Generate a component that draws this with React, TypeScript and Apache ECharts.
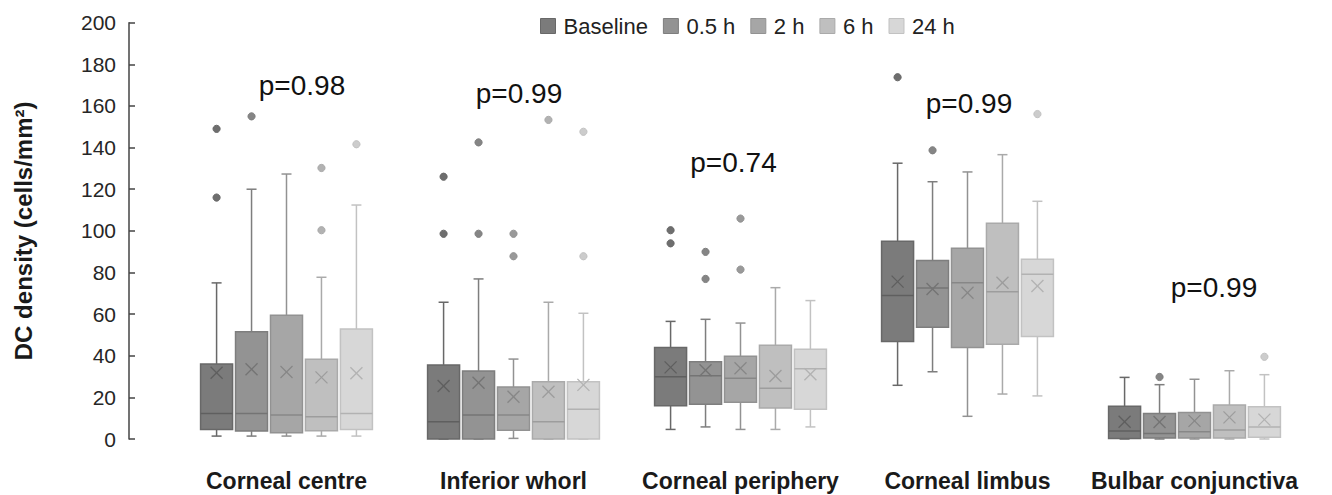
import React, { useEffect, useRef } from "react";
import * as echarts from "echarts";

const categories = ["Corneal centre", "Inferior whorl", "Corneal periphery", "Corneal limbus", "Bulbar conjunctiva"];
const seriesNames = ["Baseline", "0.5 h", "2 h", "6 h", "24 h"];
const yTicks = [0, 20, 40, 60, 80, 100, 120, 140, 160, 180, 200];
const pValues = ["p=0.98", "p=0.99", "p=0.74", "p=0.99", "p=0.99"];

// [min, q1, median, q3, max, mean] per category
const baselineStats = [
  [1.4, 4.6, 12.3, 36, 75, 31.8],
  [0, 0, 8.3, 35.6, 65.7, 25.5],
  [4.6, 16, 29.9, 44, 56.5, 34.4],
  [25.8, 46.8, 68.9, 95, 132.5, 75.6],
  [0, 0.3, 3.8, 15.7, 29.6, 8.3],
];
const h05Stats = [
  [1.4, 3.8, 12.3, 51.5, 120, 33.5],
  [0, 0, 11.5, 32.7, 76.9, 27],
  [5.8, 16.7, 30.4, 37.1, 57.5, 33],
  [32.3, 53.7, 72.6, 85.7, 123.6, 72.1],
  [0, 0.5, 2.7, 12.2, 26.1, 8.2],
];
const h2Stats = [
  [1.4, 3, 11.5, 59.4, 127.3, 32.2],
  [0.3, 4.2, 11.5, 25, 38.4, 20.3],
  [4.6, 17.6, 29.2, 39.7, 55.7, 34],
  [10.9, 44, 75.1, 91.6, 128.3, 70.3],
  [0, 0.5, 3.5, 12.7, 28.7, 8.7],
];
const h6Stats = [
  [1.4, 4, 10.7, 38.3, 77.7, 29.6],
  [0, 0, 8.3, 27.5, 65.7, 22.7],
  [4.6, 14.9, 24.4, 45, 72.7, 30.3],
  [21.6, 45.5, 70.8, 103.6, 136.6, 75.1],
  [0, 0.5, 4.3, 16.3, 32.8, 10.4],
];
const h24Stats = [
  [1.4, 4.6, 12.3, 52.8, 112.4, 31.6],
  [0, 0, 14.3, 27.5, 60.4, 26],
  [5.8, 14.3, 33.8, 43.1, 66.5, 31.1],
  [20.7, 49.3, 79.1, 86.3, 114.2, 73.5],
  [0, 0.8, 5.8, 15.5, 30.9, 9.3],
];

// outliers per category
const baselineOutliers = [[149, 116], [126, 98.6], [100.3, 94], [173.8], []];
const h05Outliers = [[155], [142.5, 98.6], [89.9, 76.9], [138.7], [29.8]];
const h2Outliers = [[], [98.6, 87.8], [105.9, 81.4], [], []];
const h6Outliers = [[130.2, 100.3], [153.3], [], [], []];
const h24Outliers = [[141.6], [147.6, 87.8], [], [156.1], [39.5]];

const allStats = [baselineStats, h05Stats, h2Stats, h6Stats, h24Stats];
const allOutliers = [baselineOutliers, h05Outliers, h2Outliers, h6Outliers, h24Outliers];

const fills = ["#7b7b7b", "#939393", "#a6a6a6", "#bfbfbf", "#d7d7d7"];
const strokes = ["#686868", "#7e7e7e", "#929292", "#aaaaaa", "#c2c2c2"];
const meanColors = ["#5f5f5f", "#747474", "#878787", "#9d9d9d", "#b2b2b2"];
const outlierFills = ["#6e6e6e", "#858585", "#999999", "#b2b2b2", "#cccccc"];

const FONT = "'Liberation Sans', Arial, sans-serif";

function makeRenderItem(sIdx: number) {
  return (params: any, api: any) => {
    const cat = api.value(0);
    const band = api.size([1, 0])[0];
    const step = band * 0.154;
    const bw = band * 0.141;
    const cx = api.coord([cat, 0])[0] + (sIdx - 2) * step;
    const y = (v: number) => api.coord([cat, v])[1];
    const vMin = api.value(1), q1 = api.value(2), med = api.value(3), q3 = api.value(4), vMax = api.value(5), mean = api.value(6);
    const stroke = strokes[sIdx];
    const ls = { stroke, lineWidth: 1.5, fill: null };
    const children: any[] = [];
    children.push({ type: "line", shape: { x1: cx, y1: y(q3), x2: cx, y2: y(vMax) }, style: ls });
    children.push({ type: "line", shape: { x1: cx - 5, y1: y(vMax), x2: cx + 5, y2: y(vMax) }, style: ls });
    children.push({ type: "line", shape: { x1: cx, y1: y(q1), x2: cx, y2: y(vMin) }, style: ls });
    children.push({ type: "line", shape: { x1: cx - 5, y1: y(vMin), x2: cx + 5, y2: y(vMin) }, style: ls });
    children.push({
      type: "rect",
      shape: { x: cx - bw / 2, y: y(q3), width: bw, height: y(q1) - y(q3) },
      style: { fill: fills[sIdx], stroke, lineWidth: 1.5 },
    });
    children.push({ type: "line", shape: { x1: cx - bw / 2, y1: y(med), x2: cx + bw / 2, y2: y(med) }, style: { stroke: meanColors[sIdx], lineWidth: 1.5 } });
    const ym = y(mean);
    const mc = { stroke: meanColors[sIdx], lineWidth: 1.3 };
    children.push({ type: "line", shape: { x1: cx - 6, y1: ym - 6, x2: cx + 6, y2: ym + 6 }, style: mc });
    children.push({ type: "line", shape: { x1: cx - 6, y1: ym + 6, x2: cx + 6, y2: ym - 6 }, style: mc });
    (allOutliers[sIdx][cat] || []).forEach((v: number) => {
      children.push({ type: "circle", shape: { cx, cy: y(v), r: 3.6 }, style: { fill: outlierFills[sIdx], stroke, lineWidth: 1 } });
    });
    return { type: "group", children };
  };
}

const pLabelPos = [
  [302, 85.5],
  [519, 93.5],
  [733.5, 162],
  [969, 103],
  [1214, 287],
];

export default function App() {
  const ref = useRef<HTMLDivElement>(null);
  useEffect(() => {
    if (!ref.current) return;
    const chart = echarts.init(ref.current, null, { renderer: "svg" });
    const series = seriesNames.map((name, sIdx) => ({
      name,
      type: "custom",
      renderItem: makeRenderItem(sIdx),
      itemStyle: { color: fills[sIdx] },
      encode: { x: 0, y: [1, 2, 3, 4, 5] },
      data: allStats[sIdx].map((s, i) => [i, ...s]),
    }));
    chart.setOption({
      animation: false,
      textStyle: { fontFamily: FONT },
      legend: {
        left: 535,
        top: 10,
        itemWidth: 15,
        itemHeight: 15,
        itemGap: 15,
        icon: "rect",
        textStyle: { fontSize: 22, color: "#222", fontFamily: FONT, padding: [0, 0, 0, 3] },
        data: seriesNames.map((n, i) => ({
          name: n,
          itemStyle: { color: fills[i], borderColor: strokes[i], borderWidth: 1 },
        })),
      },
      grid: { left: 173, right: 24, top: 22.7, bottom: 56 },
      xAxis: {
        type: "category",
        data: categories,
        axisLine: { show: false },
        axisTick: { show: false },
        axisLabel: { fontSize: 23, fontWeight: "bold", color: "#1a1a1a", margin: 30, fontFamily: FONT, interval: 0 },
      },
      yAxis: {
        type: "value",
        min: yTicks[0],
        max: yTicks[yTicks.length - 1],
        interval: 20,
        offset: 44,
        name: "DC density (cells/mm²)",
        nameLocation: "middle",
        nameRotate: 90,
        nameGap: 94,
        nameTextStyle: { fontSize: 24, fontWeight: "bold", color: "#1a1a1a", fontFamily: FONT },
        axisLine: { show: true, lineStyle: { color: "#444", width: 1.5 } },
        axisTick: { show: true, inside: true, length: 6, lineStyle: { color: "#444", width: 1.5 } },
        axisLabel: { fontSize: 21, color: "#262626", margin: 13, fontFamily: FONT },
        splitLine: { show: false },
      },
      graphic: pValues.map((t, i) => ({
        type: "text",
        x: pLabelPos[i][0],
        y: pLabelPos[i][1],
        style: { text: t, fontSize: 28, fontFamily: FONT, fill: "#111", textAlign: "center", textVerticalAlign: "middle" },
      })),
      series,
    });
    return () => chart.dispose();
  }, []);
  return <div ref={ref} style={{ position: "absolute", left: 0, top: 0, width: 1332, height: 495 }} />;
}
